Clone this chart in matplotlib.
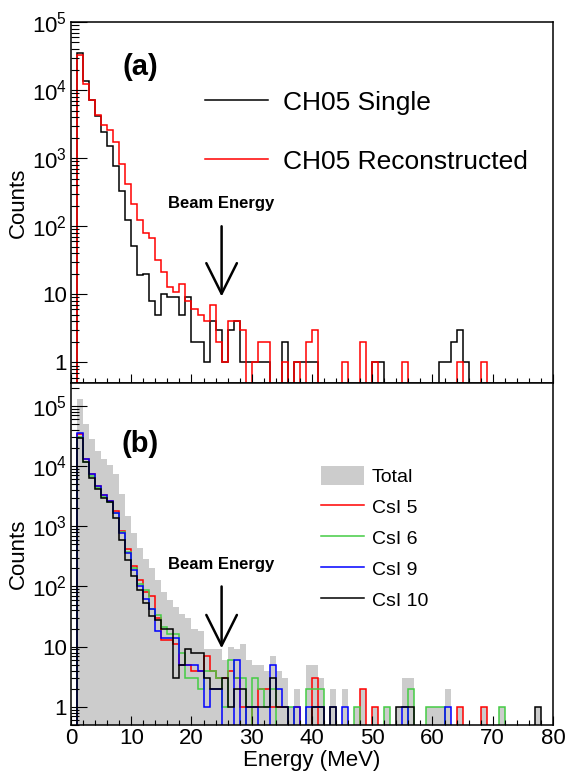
import numpy as np
import matplotlib
matplotlib.use("Agg")
import matplotlib.pyplot as plt
from matplotlib.lines import Line2D
from matplotlib.patches import Patch
from matplotlib.ticker import LogLocator, FuncFormatter, MultipleLocator, NullFormatter

plt.rcParams['font.family'] = ['Liberation Sans', 'DejaVu Sans']
plt.rcParams['mathtext.fontset'] = 'custom'
plt.rcParams['mathtext.rm'] = 'Liberation Sans'
plt.rcParams['mathtext.it'] = 'Liberation Sans:italic'
plt.rcParams['mathtext.bf'] = 'Liberation Sans:bold'

# 1 MeV bins, 0..80 MeV
edges = np.arange(0, 81)
beam_energy = 25

# panel (a)
ch05_single = [
    0, 35300, 13700, 7160, 4100, 2450, 1535, 780, 325, 122,
    51, 19, 20, 8, 5, 10, 9, 9, 5, 9,
    2, 2, 1, 4, 3, 1, 3, 4, 1, 1,
    1, 1, 1, 0, 0, 2, 0, 1, 1, 1,
    1, 0, 0, 0, 0, 0, 0, 0, 0, 0,
    1, 1, 0, 0, 0, 0, 0, 0, 0, 0,
    0, 1, 1, 2, 3, 1, 0, 0, 0, 0,
    0, 0, 0, 0, 0, 0, 0, 0, 0, 0,
]
ch05_reco = [
    0, 32700, 12300, 7160, 4300, 3090, 2600, 1720, 820, 422,
    215, 125, 80, 67, 32, 21, 13, 11, 14, 8,
    6, 5, 4, 7, 2, 1, 4, 4, 3, 0,
    1, 2, 2, 0, 0, 1, 0, 1, 0, 2,
    3, 0, 0, 0, 0, 1, 0, 0, 2, 0,
    1, 0, 0, 0, 0, 1, 0, 0, 0, 0,
    0, 0, 0, 0, 1, 0, 0, 0, 1, 0,
    0, 0, 0, 0, 0, 0, 0, 0, 0, 0,
]

# panel (b)
total = [
    0, 129000, 49500, 27900, 17800, 12900, 10300, 7300, 3380, 1470,
    777, 436, 290, 200, 130, 80, 60, 45, 35, 30,
    20, 18, 9, 9, 9, 6, 10, 9, 11, 6,
    5, 5, 4, 7, 4, 3, 1, 2, 0, 5,
    5, 3, 0, 2, 0, 2, 0, 1, 2, 0,
    1, 0, 1, 0, 1, 3, 3, 0, 0, 1,
    1, 1, 2, 0, 1, 0, 0, 0, 1, 0,
    0, 1, 0, 0, 0, 0, 0, 1, 0, 0,
]
csi5 = [
    0, 34000, 12900, 7300, 4750, 3370, 2600, 1780, 845, 425,
    215, 126, 80, 70, 30, 13, 13, 11, 5, 5,
    4, 4, 7, 4, 3, 3, 4, 3, 1, 0,
    1, 2, 2, 1, 1, 1, 0, 1, 0, 0,
    3, 0, 0, 0, 0, 0, 0, 0, 2, 0,
    1, 0, 0, 0, 0, 0, 0, 0, 0, 0,
    0, 0, 0, 0, 1, 0, 0, 0, 1, 0,
    0, 0, 0, 0, 0, 0, 0, 0, 0, 0,
]
csi6 = [
    0, 30000, 11800, 6800, 4300, 3100, 2500, 1650, 800, 380,
    200, 110, 86, 43, 33, 21, 16, 16, 8, 3,
    3, 2, 4, 4, 3, 1, 6, 3, 3, 0,
    3, 2, 1, 2, 0, 0, 1, 0, 0, 2,
    2, 2, 0, 0, 0, 0, 0, 1, 0, 0,
    0, 0, 1, 0, 0, 0, 2, 0, 0, 1,
    1, 1, 0, 0, 0, 0, 0, 0, 0, 0,
    0, 1, 0, 0, 0, 0, 0, 0, 0, 0,
]
csi9 = [
    0, 36000, 12900, 7300, 4750, 3370, 2600, 1670, 775, 360,
    190, 100, 61, 42, 18, 14, 14, 14, 5, 5,
    5, 4, 1, 2, 2, 0, 0, 6, 0, 1,
    1, 0, 0, 5, 2, 1, 0, 1, 0, 1,
    1, 1, 0, 1, 0, 1, 0, 0, 0, 0,
    0, 0, 0, 0, 0, 1, 0, 0, 0, 0,
    0, 0, 1, 0, 0, 0, 0, 0, 0, 0,
    0, 0, 0, 0, 0, 0, 0, 0, 0, 0,
]
csi10 = [
    0, 29700, 11700, 6400, 4100, 2960, 2550, 1380, 600, 280,
    147, 86, 54, 32, 28, 20, 20, 3, 5, 9,
    8, 8, 3, 2, 2, 3, 1, 2, 2, 1,
    1, 1, 1, 3, 1, 1, 0, 0, 0, 0,
    1, 1, 0, 1, 0, 0, 0, 0, 0, 0,
    0, 0, 0, 0, 1, 1, 1, 0, 0, 0,
    0, 0, 0, 0, 0, 0, 0, 0, 0, 0,
    0, 0, 0, 0, 0, 0, 0, 1, 0, 0,
]

GREY = '#cccccc'
RED = '#ff0000'
GREEN = '#44cc44'
BLUE = '#0000ff'
FLOOR = 1e-3  # empty bins drop below the axis, like ROOT


def show(v):
    v = np.asarray(v, dtype=float)
    return np.where(v > 0, v, FLOOR)


def log_label(v, pos):
    n = int(round(np.log10(v)))
    if n == 0:
        return '1'
    if n == 1:
        return '10'
    return r'$10^{%d}$' % n


def style_axes(ax, ymax):
    ax.set_xlim(0, 80)
    ax.set_yscale('log')
    ax.set_ylim(0.5, ymax)
    ax.xaxis.set_major_locator(MultipleLocator(10))
    ax.xaxis.set_minor_locator(MultipleLocator(2))
    ax.yaxis.set_major_locator(LogLocator(base=10, numticks=10))
    ax.yaxis.set_minor_locator(LogLocator(base=10, subs=range(2, 10), numticks=20))
    ax.yaxis.set_major_formatter(FuncFormatter(log_label))
    ax.yaxis.set_minor_formatter(NullFormatter())
    ax.tick_params(axis='both', which='both', direction='in', width=0.8,
                   top=False, right=False, labelsize=16)
    ax.tick_params(axis='y', which='major', length=11.5, pad=3)
    ax.tick_params(axis='y', which='minor', length=6)
    ax.tick_params(axis='x', which='major', length=6.5, pad=2)
    ax.tick_params(axis='x', which='minor', length=3.5)
    for s in ax.spines.values():
        s.set_linewidth(1.1)
    ax.set_ylabel('Counts', fontsize=16)
    ax.yaxis.set_label_coords(-0.087, 0.5)


fig = plt.figure(figsize=(5.66, 7.74), dpi=100)
ax1 = fig.add_axes([0.1254, 0.5052, 0.8516, 0.4664])
ax2 = fig.add_axes([0.1254, 0.0633, 0.8516, 0.4419])

# (a)
ax1.stairs(show(ch05_single), edges, baseline=FLOOR, color='black', lw=1.1)
ax1.stairs(show(ch05_reco), edges, baseline=FLOOR, color=RED, lw=1.1)
style_axes(ax1, 1e5)
ax1.tick_params(axis='x', labelbottom=False)
ax1.text(0.143, 0.875, '(a)', transform=ax1.transAxes, fontsize=21,
         fontweight='bold', ha='center', va='center')
ax1.text(beam_energy, 215, 'Beam Energy', ha='center', va='center',
         fontsize=12, fontweight='bold')
ax1.annotate('', xy=(beam_energy, 9.3), xytext=(beam_energy, 100),
             arrowprops=dict(arrowstyle='->,head_length=1.1,head_width=0.55',
                             lw=1.8, color='black', mutation_scale=20,
                             shrinkA=0, shrinkB=0))
h_a = [Line2D([], [], color='black', lw=1.1), Line2D([], [], color=RED, lw=1.1)]
ax1.legend(h_a, ['CH05 Single', 'CH05 Reconstructed'], loc='upper left',
           bbox_to_anchor=(0.278, 0.81), frameon=False, fontsize=19,
           handlelength=2.4, handletextpad=0.57, labelspacing=1.33,
           borderpad=0, borderaxespad=0)

# (b)
ax2.stairs(show(total), edges, baseline=FLOOR, fill=True, color=GREY, lw=0)
ax2.stairs(show(csi5), edges, baseline=FLOOR, color=RED, lw=1.1)
ax2.stairs(show(csi6), edges, baseline=FLOOR, color=GREEN, lw=1.1)
ax2.stairs(show(csi9), edges, baseline=FLOOR, color=BLUE, lw=1.1)
ax2.stairs(show(csi10), edges, baseline=FLOOR, color='black', lw=1.1)
style_axes(ax2, 2.4e5)
ax2.set_xlabel('Energy (MeV)', fontsize=16, va='top')
ax2.xaxis.set_label_coords(0.5, -0.072)
ax2.text(0.143, 0.822, '(b)', transform=ax2.transAxes, fontsize=21,
         fontweight='bold', ha='center', va='center')
ax2.text(beam_energy, 235, 'Beam Energy', ha='center', va='center',
         fontsize=12, fontweight='bold')
ax2.annotate('', xy=(beam_energy, 9.4), xytext=(beam_energy, 100),
             arrowprops=dict(arrowstyle='->,head_length=1.1,head_width=0.55',
                             lw=1.8, color='black', mutation_scale=20,
                             shrinkA=0, shrinkB=0))
h_b = [Patch(facecolor=GREY, edgecolor='none'),
       Line2D([], [], color=RED, lw=1.1),
       Line2D([], [], color=GREEN, lw=1.1),
       Line2D([], [], color=BLUE, lw=1.1),
       Line2D([], [], color='black', lw=1.1)]
ax2.legend(h_b, ['Total', 'CsI 5', 'CsI 6', 'CsI 9', 'CsI 10'], loc='upper left',
           bbox_to_anchor=(0.519, 0.757), frameon=False, fontsize=14,
           handlelength=2.2, handleheight=1.13, handletextpad=0.4,
           labelspacing=0.56, borderpad=0, borderaxespad=0)

fig.savefig('out.png', dpi=100)
